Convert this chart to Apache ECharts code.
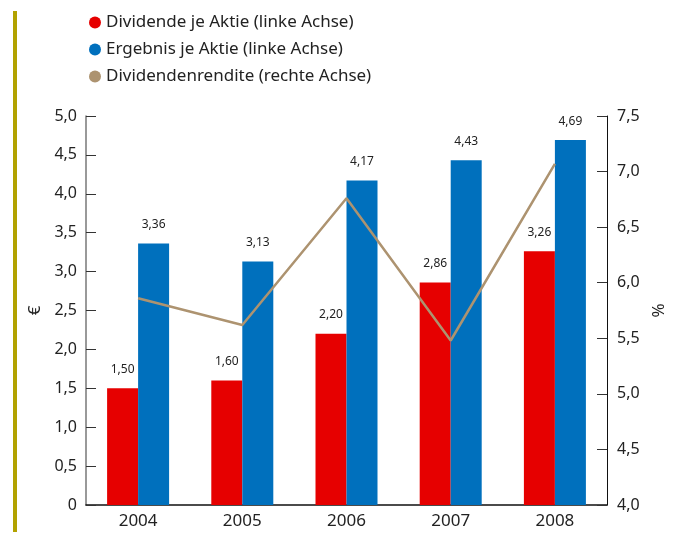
<!DOCTYPE html>
<html>
<head>
<meta charset="utf-8">
<script src="https://cdn.jsdelivr.net/npm/echarts@6/dist/echarts.min.js"></script>
<style>
  html, body { margin: 0; padding: 0; background: #fff; }
  #chart { width: 673px; height: 536px; }
</style>
</head>
<body>
<div id="chart"></div>
<script>
var years = ['2004', '2005', '2006', '2007', '2008']
var dividende = [1.50, 1.60, 2.20, 2.86, 3.26]
var ergebnis = [3.36, 3.13, 4.17, 4.43, 4.69]
var rendite = [5.86, 5.62, 6.76, 5.48, 7.07]

var names = ['Dividende je Aktie (linke Achse)', 'Ergebnis je Aktie (linke Achse)', 'Dividendenrendite (rechte Achse)']
var font = 'Noto Sans'

function komma(v, d) {
  return v.toFixed(d).replace('.', ',')
}

var chart = echarts.init(document.getElementById('chart'))

var barLabel = {
  show: true,
  position: 'top',
  distance: 13,
  fontFamily: font,
  fontSize: 12,
  color: '#222',
  formatter: function (p) { return komma(p.value, 2) }
}

var option = {
  animation: false,
  textStyle: { fontFamily: font },
  graphic: [
    { type: 'rect', shape: { x: 13, y: 11, width: 4, height: 521 }, style: { fill: '#b2a200' } }
  ],
  legend: {
    orient: 'vertical',
    left: 84,
    top: 9,
    itemGap: 10,
    itemWidth: 12,
    itemHeight: 12,
    icon: 'circle',
    textStyle: { fontFamily: font, fontSize: 17, color: '#222' },
    data: [
      { name: names[0], itemStyle: { color: '#e60000' } },
      { name: names[1], itemStyle: { color: '#0070bd' } },
      { name: names[2], itemStyle: { color: '#ad9370' } }
    ]
  },
  grid: { left: 86, right: 66, top: 116, bottom: 31, containLabel: false, outerBoundsMode: 'none' },
  xAxis: {
    type: 'category',
    data: years,
    axisLine: { lineStyle: { color: '#111', width: 1.5 } },
    axisTick: { show: false },
    axisLabel: { fontFamily: font, fontSize: 17, color: '#222', margin: 8 }
  },
  yAxis: [
    {
      type: 'value',
      min: 0,
      max: 5,
      interval: 0.5,
      name: '€',
      nameLocation: 'middle',
      nameGap: 40,
      nameRotate: 90,
      nameTextStyle: { fontFamily: font, fontSize: 17, color: '#222' },
      axisLine: { show: true, lineStyle: { color: '#777', width: 1.5 } },
      axisTick: { show: true, inside: true, length: 10, lineStyle: { color: '#333' } },
      splitLine: { show: false },
      axisLabel: {
        fontFamily: font, fontSize: 16, color: '#222', margin: 9,
        formatter: function (v) { return v === 0 ? '0' : komma(v, 1) }
      }
    },
    {
      type: 'value',
      min: 4,
      max: 7.5,
      interval: 0.5,
      position: 'right',
      name: '%',
      nameLocation: 'middle',
      nameGap: 43,
      nameRotate: 90,
      nameTextStyle: { fontFamily: font, fontSize: 17, color: '#222' },
      axisLine: { show: true, lineStyle: { color: '#111', width: 1 } },
      axisTick: { show: true, inside: true, length: 10, lineStyle: { color: '#333' } },
      splitLine: { show: false },
      axisLabel: {
        fontFamily: font, fontSize: 16, color: '#222', margin: 10,
        formatter: function (v) { return komma(v, 1) }
      }
    }
  ],
  series: [
    {
      name: names[0],
      type: 'bar',
      data: dividende,
      barWidth: 31,
      barGap: '0%',
      itemStyle: { color: '#e60000' },
      label: barLabel
    },
    {
      name: names[1],
      type: 'bar',
      data: ergebnis,
      barWidth: 31,
      barGap: '0%',
      itemStyle: { color: '#0070bd' },
      label: barLabel
    },
    {
      name: names[2],
      type: 'line',
      yAxisIndex: 1,
      data: rendite,
      symbol: 'none',
      z: 5,
      lineStyle: { color: '#ad9370', width: 2.5 },
      itemStyle: { color: '#ad9370' }
    }
  ]
}
chart.setOption(option)
</script>
</body>
</html>
